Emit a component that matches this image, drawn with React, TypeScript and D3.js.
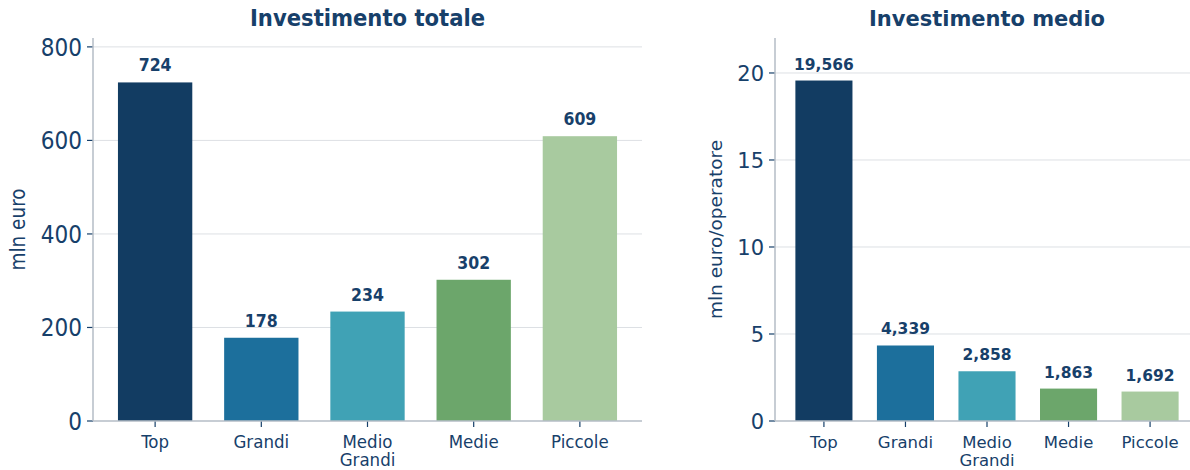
import React from 'react'
import * as d3 from 'd3'

const categories = ['Top', 'Grandi', 'Medio\nGrandi', 'Medie', 'Piccole']
const totalValues = [724, 178, 234, 302, 609]
const averageValues = [19.566, 4.339, 2.858, 1.863, 1.692]
const totalTicks = [0, 200, 400, 600, 800]
const averageTicks = [0, 5, 10, 15, 20]
const colors = ['#123c62', '#1c6f9c', '#40a2b5', '#6ca66b', '#a8ca9f']

const navy = '#17406a'

type PanelProps = {
  title: string
  yLabel: string
  values: number[]
  ticks: number[]
  yMax: number
  left: number
  right: number
  fmt: (v: number) => string
  font: string
  sizes: { title: number; tick: number; label: number; value: number; cat: number }
  yLabelX: number
  outer: number
}

const Panel = (p: PanelProps) => {
  const top = 38
  const bottom = 421
  const x = d3.scaleBand<string>().domain(categories).range([p.left, p.right]).paddingInner(0.3).paddingOuter(p.outer)
  const y = d3.scaleLinear().domain([0, p.yMax]).range([bottom, top])

  return (
    <g fontFamily={p.font} fill={navy}>
      <text x={(p.left + p.right) / 2} y={26} textAnchor="middle" fontWeight="bold" fontSize={p.sizes.title}>
        {p.title}
      </text>
      {p.ticks.map((t) => (
        <g key={t}>
          {t > 0 && <line x1={p.left} x2={p.right} y1={y(t)} y2={y(t)} stroke="#dde0e4" strokeWidth={1} />}
          <line x1={p.left - 6} x2={p.left} y1={y(t)} y2={y(t)} stroke={navy} strokeWidth={1.2} />
          <text x={p.left - 11} y={y(t)} dy="0.36em" textAnchor="end" fontSize={p.sizes.tick}>
            {t}
          </text>
        </g>
      ))}
      {p.values.map((v, i) => {
        const c = categories[i]
        const bx = x(c) as number
        return (
          <g key={c}>
            <rect x={bx} y={y(v)} width={x.bandwidth()} height={bottom - y(v)} fill={colors[i]} />
            <text
              x={bx + x.bandwidth() / 2}
              y={y(v) - 11}
              textAnchor="middle"
              fontWeight="bold"
              fontSize={p.sizes.value}
            >
              {p.fmt(v)}
            </text>
            <line
              x1={bx + x.bandwidth() / 2}
              x2={bx + x.bandwidth() / 2}
              y1={bottom}
              y2={bottom + 6}
              stroke={navy}
              strokeWidth={1.2}
            />
            {c.split('\n').map((line, j) => (
              <text
                key={j}
                x={bx + x.bandwidth() / 2}
                y={448 + j * 18}
                textAnchor="middle"
                fontSize={p.sizes.cat}
              >
                {line}
              </text>
            ))}
          </g>
        )
      })}
      <line x1={p.left} x2={p.left} y1={top} y2={bottom} stroke="#b4bcc6" strokeWidth={1.5} />
      <line x1={p.left} x2={p.right} y1={bottom} y2={bottom} stroke="#b4bcc6" strokeWidth={1.5} />
      <text
        transform={`translate(${p.yLabelX},${(top + bottom) / 2}) rotate(-90)`}
        textAnchor="middle"
        fontSize={p.sizes.label}
      >
        {p.yLabel}
      </text>
    </g>
  )
}

export default function App() {
  const comma3 = (v: number) => d3.format('.3f')(v).replace('.', ',')
  return (
    <svg width={1190} height={470} style={{ position: 'absolute', left: 0, top: 0, background: '#fff' }}>
      <Panel
        title="Investimento totale"
        yLabel="mln euro"
        values={totalValues}
        ticks={totalTicks}
        yMax={819}
        left={93}
        right={642}
        fmt={(v) => String(v)}
        font="'DejaVu Sans Condensed', 'DejaVu Sans', sans-serif"
        sizes={{ title: 23.5, tick: 24, label: 20.5, value: 17.5, cat: 18.5 }}
        yLabelX={25}
        outer={0.235}
      />
      <Panel
        title="Investimento medio"
        yLabel="mln euro/operatore"
        values={averageValues}
        ticks={averageTicks}
        yMax={22.01}
        left={775}
        right={1199}
        fmt={comma3}
        font="'DejaVu Sans', sans-serif"
        sizes={{ title: 21, tick: 21, label: 18.5, value: 15.5, cat: 16.5 }}
        yLabelX={722}
        outer={0.25}
      />
    </svg>
  )
}
